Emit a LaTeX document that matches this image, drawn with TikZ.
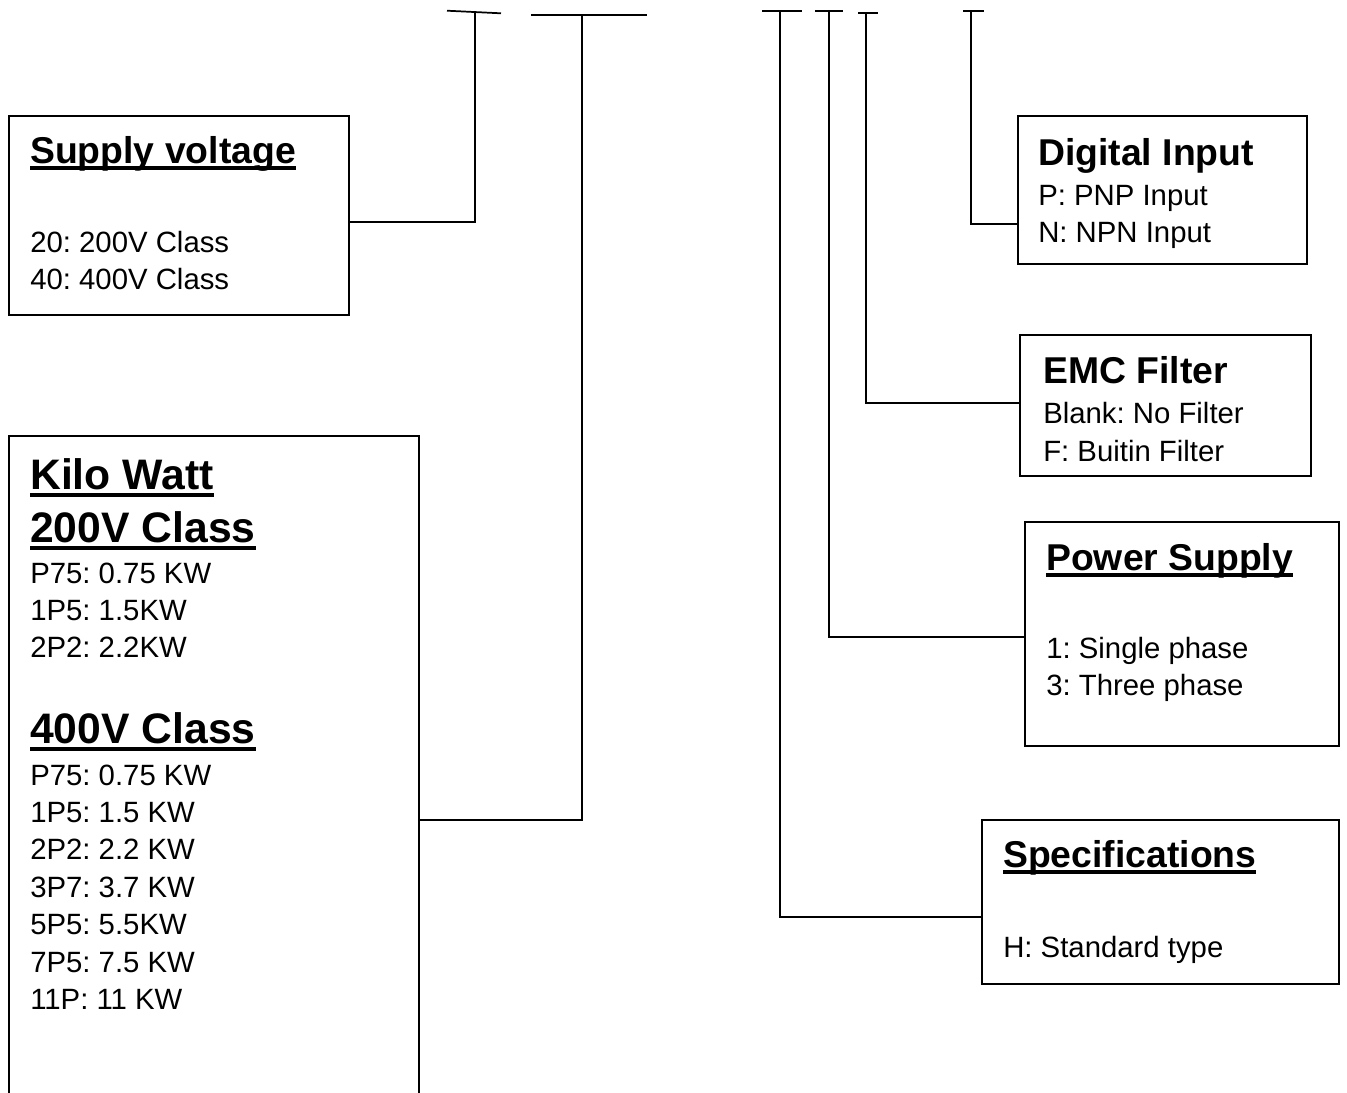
\documentclass[tikz,border=0pt]{standalone}
\usepackage{fontspec}
\setmainfont{Liberation Sans}
\usetikzlibrary{calc}
\frenchspacing

\newcommand{\bodyfont}{\fontsize{22}{28}\selectfont}
\newcommand{\headfont}{\fontsize{28}{34}\selectfont\bfseries}
\newcommand{\kwfont}{\fontsize{32}{38}\selectfont\bfseries}
\newcommand{\ulhead}[1]{\setbox0\hbox{#1}\rlap{\rule[-0.18em]{\wd0}{0.09em}}\box0}

\tikzset{
  box/.style 2 args={draw, line width=1.4pt, anchor=north west, inner sep=0pt,
    minimum width=#1*0.75pt, minimum height=#2*0.75pt},
  txt/.style={anchor=base west, inner sep=0pt, font=\bodyfont},
  head/.style={anchor=base west, inner sep=0pt, font=\headfont},
  kwhead/.style={anchor=base west, inner sep=0pt, font=\kwfont},
  wire/.style={line width=1.3pt}
}

\begin{document}
\begin{tikzpicture}[x=0.75pt, y=-0.75pt]
  \useasboundingbox (0,0) rectangle (1347,1093);

  % boxes
  \node[box={340}{199}] (supply) at (8,115) {};
  \node[box={410}{690}] (kilo) at (8,435) {};
  \node[box={289}{148}] (digital) at (1017,115) {};
  \node[box={291}{141}] (emc) at (1019,334) {};
  \node[box={314}{224}] (power) at (1024,521) {};
  \node[box={357}{164}] (spec) at (981,819) {};

  % supply voltage
  \node[head] (supplyhd) at (30,163) {\ulhead{Supply voltage}};
  \node[txt] (supply20) at (30,252) {20: 200V Class};
  \node[txt] (supply40) at (30,289) {40: 400V Class};

  % kilo watt
  \node[kwhead] (kwhd) at (30,489) {\ulhead{Kilo Watt}};
  \node[kwhead] (kwlow) at (30,542) {\ulhead{200V Class}};
  \foreach \t [count=\i from 0] in {P75: 0.75 KW, 1P5: 1.5KW, 2P2: 2.2KW}
    \node[txt] at (30,583+37*\i) {\t};
  \node[kwhead] (kwhigh) at (30,743) {\ulhead{400V Class}};
  \foreach \t [count=\i from 0] in {P75: 0.75 KW, 1P5: 1.5 KW, 2P2: 2.2 KW,
      3P7: 3.7 KW, 5P5: 5.5KW, 7P5: 7.5 KW, 11P: 11 KW}
    \node[txt] at (30,785+37.4*\i) {\t};

  % digital input
  \node[head] (digitalhd) at (1038,165) {Digital Input};
  \node[txt] (digitalp) at (1038,205.5) {P: PNP Input};
  \node[txt] (digitaln) at (1038,242.5) {N: NPN Input};

  % emc filter
  \node[head] (emchd) at (1043,383) {EMC Filter};
  \node[txt] (emcb) at (1043,423.5) {Blank: No Filter};
  \node[txt] (emcf) at (1043,461.5) {F: Buitin Filter};

  % power supply
  \node[head] (powerhd) at (1046,570) {\ulhead{Power Supply}};
  \node[txt] (power1) at (1046,658.5) {1: Single phase};
  \node[txt] (power3) at (1046,695.5) {3: Three phase};

  % specifications
  \node[head] (spechd) at (1003,867) {\ulhead{Specifications}};
  \node[txt] (spech) at (1003,957) {H: Standard type};

  % tee marks on top
  \coordinate (t1) at (475,12);
  \coordinate (t2) at (582,15);
  \coordinate (t3) at (780,11);
  \coordinate (t4) at (829,11);
  \coordinate (t5) at (866,13);
  \coordinate (t6) at (971,11);
  \draw[wire] (447,10.7) -- (501,13.3);
  \draw[wire] (531,15) -- (647,15);
  \draw[wire] (762,11) -- (802,11);
  \draw[wire] (815,11) -- (843,11);
  \draw[wire] (858,13) -- (878,13);
  \draw[wire] (963,11) -- (984,11);

  % connectors
  \draw[wire] (t1) |- ($(supply.north east)+(0,107)$);
  \draw[wire] (t2) |- ($(kilo.north east)+(0,385)$);
  \draw[wire] (t3) |- ($(spec.north west)+(0,98)$);
  \draw[wire] (t4) |- ($(power.north west)+(0,116)$);
  \draw[wire] (t5) |- ($(emc.north west)+(0,69)$);
  \draw[wire] (t6) |- ($(digital.north west)+(0,109)$);
\end{tikzpicture}
\end{document}
